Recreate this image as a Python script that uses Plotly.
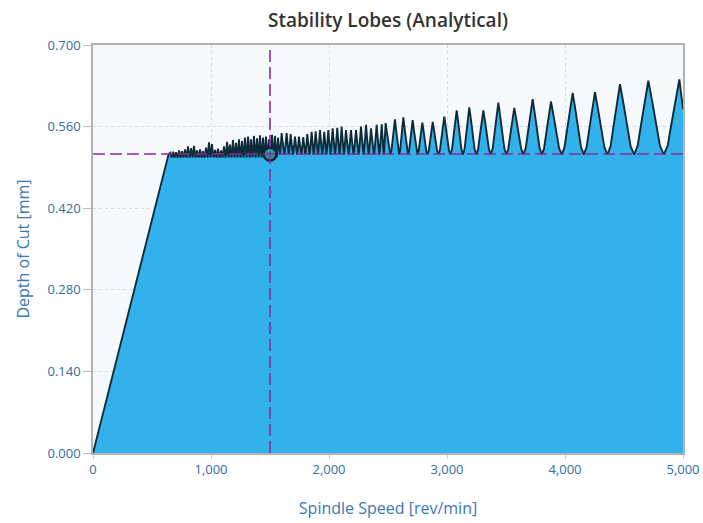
import plotly.graph_objects as go

# ---------------- data ----------------
TITLE = "Stability Lobes (Analytical)"
X_TITLE = "Spindle Speed [rev/min]"
Y_TITLE = "Depth of Cut [mm]"

X_TICKS = [0, 1000, 2000, 3000, 4000, 5000]
Y_TICKS = [0.0, 0.14, 0.28, 0.42, 0.56, 0.70]

# ramp from origin to start of lobes
RAMP_START = (0, 0.0)
RAMP_END = (636, 0.512)

# dense (unresolved) lobe region: peak speeds and peak depths
DENSE_PEAK_SPEED = [653, 678, 703, 729, 754, 780, 805, 831, 856, 881, 907, 932,
                    958, 983, 1008, 1034, 1059, 1085, 1110, 1136, 1161, 1186, 1212,
                    1237, 1263, 1288, 1314, 1339, 1364, 1390, 1415, 1441, 1466, 1492,
                    1517, 1542, 1568]
DENSE_PEAK_DEPTH = [0.515, 0.517, 0.516, 0.519, 0.518, 0.521, 0.526, 0.523, 0.527,
                    0.519, 0.521, 0.518, 0.524, 0.533, 0.530, 0.520, 0.522, 0.519,
                    0.526, 0.534, 0.529, 0.537, 0.532, 0.538, 0.535, 0.541, 0.543,
                    0.538, 0.544, 0.540, 0.545, 0.541, 0.543, 0.538, 0.546, 0.544,
                    0.541]
DENSE_TROUGH_DEPTH = 0.507

# resolved lobes: peak speeds and peak depths
LOBE_PEAK_SPEED = [1599, 1641, 1675, 1712, 1746, 1782, 1816, 1853, 1887, 1924, 1960,
                   1994, 2031, 2070, 2107, 2144, 2186, 2229, 2271, 2314, 2356, 2404,
                   2447, 2480, 2559, 2630, 2709, 2791, 2879, 2977, 3082, 3189, 3308,
                   3435, 3570, 3726, 3881, 4065, 4254, 4466, 4706, 4969]
LOBE_PEAK_DEPTH = [0.549, 0.549, 0.547, 0.543, 0.543, 0.542, 0.547, 0.551, 0.552,
                   0.554, 0.551, 0.554, 0.557, 0.558, 0.560, 0.554, 0.554, 0.554,
                   0.560, 0.563, 0.557, 0.563, 0.564, 0.566, 0.5725, 0.576, 0.571,
                   0.567, 0.568, 0.577, 0.588, 0.593, 0.588, 0.601, 0.592, 0.607,
                   0.603, 0.618, 0.619, 0.633, 0.639, 0.641]
LOBE_TROUGH_DEPTH = 0.512

# end of curve at right edge of the speed range
CURVE_END = (5000, 0.590)

# shape of one lobe flank: fraction of the way from
# trough to peak (speed) vs fraction of the lobe height reached
FLANK_POS = [0.25, 0.5, 0.75]
FLANK_HEIGHT = [0.12, 0.42, 0.72]

# selected operating point
OPERATING_SPEED = 1500
OPERATING_DEPTH = 0.513

# ---------------- build the boundary curve ----------------
peaks = list(zip(DENSE_PEAK_SPEED, DENSE_PEAK_DEPTH)) + list(zip(LOBE_PEAK_SPEED, LOBE_PEAK_DEPTH))
dense_limit = DENSE_PEAK_SPEED[-1]

xs = [RAMP_START[0], RAMP_END[0]]
ys = [RAMP_START[1], RAMP_END[1]]
trough_x, trough_y = RAMP_END
for i, (px, py) in enumerate(peaks):
    for f, h in zip(FLANK_POS, FLANK_HEIGHT):
        xs.append(trough_x + f * (px - trough_x))
        ys.append(trough_y + h * (py - trough_y))
    xs.append(px)
    ys.append(py)
    if i + 1 < len(peaks):
        nx = 0.5 * (px + peaks[i + 1][0])
        ny = DENSE_TROUGH_DEPTH if peaks[i + 1][0] <= dense_limit else LOBE_TROUGH_DEPTH
        for f, h in zip(reversed(FLANK_POS), reversed(FLANK_HEIGHT)):
            xs.append(px + (1 - f) * (nx - px))
            ys.append(ny + h * (py - ny))
        xs.append(nx)
        ys.append(ny)
        trough_x, trough_y = nx, ny
    else:
        xs.append(CURVE_END[0])
        ys.append(CURVE_END[1])

fig = go.Figure()
fig.add_trace(go.Scatter(
    x=xs, y=ys, mode="lines", fill="tozeroy",
    fillcolor="#33b1ea",
    line=dict(color="#0f2b3a", width=1.9),
    hoverinfo="skip", showlegend=False,
))

DASH_COLOR = "#8b2c9c"
fig.add_shape(type="line", xref="x", yref="y",
              x0=X_TICKS[0], x1=X_TICKS[-1], y0=OPERATING_DEPTH, y1=OPERATING_DEPTH,
              line=dict(color=DASH_COLOR, width=1.6, dash="12px,5px"), layer="above")
fig.add_shape(type="line", xref="x", yref="y",
              x0=OPERATING_SPEED, x1=OPERATING_SPEED, y0=Y_TICKS[0], y1=Y_TICKS[-1],
              line=dict(color=DASH_COLOR, width=1.6, dash="12px,5px"), layer="above")

fig.add_trace(go.Scatter(
    x=[OPERATING_SPEED], y=[OPERATING_DEPTH], mode="markers",
    marker=dict(size=13, color="#2595a5", line=dict(color="#0c2230", width=2.5)),
    showlegend=False, cliponaxis=False,
))

TICK_FONT = dict(family="Open Sans", size=13, color="#2f6ea6")
AXIS_TITLE_FONT = dict(family="Open Sans", size=16, color="#3b78b5")

# page body margin is removed below, so the figure fills the whole window
W, H = 703, 523
L, R, T, B = 93, 20, 45, 70
fig.update_layout(
    template="none",
    width=W, height=H,
    margin=dict(l=L, r=R, t=T, b=B),
    paper_bgcolor="white",
    plot_bgcolor="#f6f9fc",
    title=dict(text=TITLE, x=(L + (W - R)) / 2 / W, xanchor="center",
               y=1 - 20 / H, yanchor="middle", yref="container",
               font=dict(family="Open Sans", size=19, color="#333333", weight=600)),
    showlegend=False,
)
fig.update_xaxes(
    range=[X_TICKS[0], X_TICKS[-1]], tickvals=X_TICKS, tickformat=",d",
    tickfont=TICK_FONT, title=dict(text=X_TITLE, font=AXIS_TITLE_FONT, standoff=25),
    showgrid=True, gridcolor="#d9d9d9", griddash="dot", gridwidth=1,
    showline=True, linecolor="#b3b3b3", linewidth=1.5, mirror=True,
    ticks="outside", ticklen=4, tickcolor="#cccccc", zeroline=False,
)
fig.update_yaxes(
    range=[Y_TICKS[0], Y_TICKS[-1]], tickvals=Y_TICKS, tickformat=".3f",
    tickfont=TICK_FONT, title=dict(text=Y_TITLE, font=AXIS_TITLE_FONT, standoff=14),
    showgrid=True, gridcolor="#d9d9d9", griddash="dot", gridwidth=1,
    showline=True, linecolor="#b3b3b3", linewidth=1.5, mirror=True,
    ticks="outside", ticklen=8, tickcolor="#bbbbbb", zeroline=False,
)

fig.write_html(
    "out.html",
    config={"displayModeBar": False},
    post_script="document.body.style.margin='0';document.body.style.overflow='hidden';",
)
